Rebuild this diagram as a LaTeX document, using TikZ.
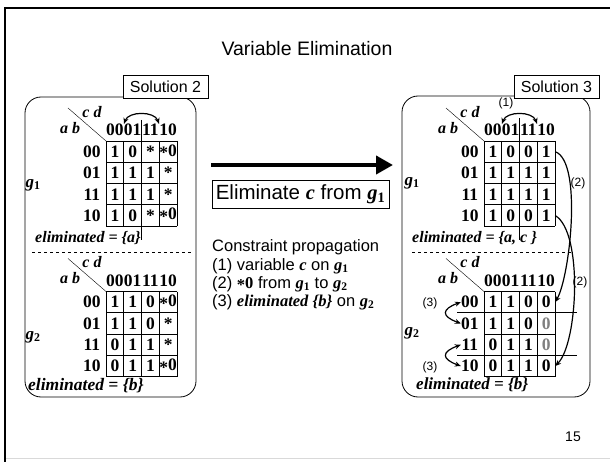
\documentclass[tikz,border=0pt]{standalone}
\usepackage{fontspec}
\setmainfont{Liberation Serif}
\setsansfont{Liberation Sans}
\usetikzlibrary{arrows.meta, positioning}

\tikzstyle{heading} = [font=\sffamily\fontsize{19.5}{19.5}\selectfont]
\tikzstyle{solbox} = [rectangle, minimum width=85pt, minimum height=23pt, inner sep=0pt, draw=black, fill=white, font=\sffamily\fontsize{16}{16}\selectfont]
\tikzstyle{process} = [rectangle, minimum width=177pt, minimum height=28pt, inner sep=0pt, draw=black, font=\sffamily\fontsize{20.5}{20.5}\selectfont]
\tikzstyle{panel} = [draw=black, line width=0.8pt, rounded corners=16pt]
\tikzstyle{cell} = [minimum width=17.75pt, minimum height=21.3pt, inner sep=0pt, font=\bfseries\fontsize{17.5}{17.5}\selectfont]
\tikzstyle{kvar} = [inner sep=0pt, font=\bfseries\itshape\fontsize{16}{16}\selectfont]
\tikzstyle{elimtext} = [inner sep=0pt, anchor=west, font=\bfseries\itshape\fontsize{16}{16}\selectfont]
\tikzstyle{note} = [inner sep=0pt, anchor=base west, font=\sffamily\fontsize{16.5}{16.5}\selectfont]
\tikzstyle{tag} = [inner sep=0pt, font=\sffamily\fontsize{12}{12}\selectfont]
\tikzstyle{bendarrow} = [line width=1.2pt, >={Stealth[length=6pt, width=5pt]}]
\tikzstyle{bigarrow} = [line width=4pt, -{Triangle[length=17pt, width=18pt]}]

\newcommand{\kstar}{\raisebox{-0.35ex}{*}}
\newcommand{\bi}[1]{{\rmfamily\bfseries\itshape #1}}
\newcommand{\gvar}[1]{\bi{g}\textsubscript{\rmfamily\bfseries #1}}

% one K-map: name, top left corner of the grid, rows of values
\newcommand{\kmap}[3]{%
  \begin{scope}[shift={#2}]
    \foreach \i in {0,...,4} {
      \draw[line width=0.8pt] (\i*17.75,0) -- (\i*17.75,85.2);
      \draw[line width=0.8pt] (0,\i*21.3) -- (71,\i*21.3);
    }
    \foreach \lab [count=\ci] in {00,01,11,10} {
      \node (#1-h\ci) [cell, minimum height=0pt] at (\ci*17.75-8.875,-11) {\lab};
      \node (#1-r\ci) [cell, anchor=east] at (-5,\ci*21.3-10.65) {\lab};
    }
    \foreach \row [count=\ri] in {#3}
      \foreach \val [count=\ci] in \row
        \node (#1-\ri-\ci) [cell] at (\ci*17.75-8.875,\ri*21.3-10.65) {\val};
    \node (#1-cd) [kvar] at (-14,-29) {c d};
    \node (#1-ab) [kvar] at (-36,-13) {a b};
    \draw (-38,-33) -- (0,0);
  \end{scope}}

\begin{document}
\begin{tikzpicture}[x=1pt, y=-1pt]
\useasboundingbox (0,0) rectangle (610,462);

% slide frame
\draw[gray!30, line width=1pt] (5,458) -- (610,458);
\draw[line width=2pt] (5,462) -- (5,8) -- (610,8);

\node (title) [heading] at (307,49) {Variable Elimination};

% solution panels
\draw[panel] (25,97) rectangle (196,397);
\draw[panel] (402,96) rectangle (590,397);
\node (sol2) [solbox] at (165.5,86.5) {Solution 2};
\node (sol3) [solbox] at (556.5,86.5) {Solution 3};

\kmap{La}{(106,141)}{{1,0,\kstar,\kstar0},{1,1,1,\kstar},{1,1,1,\kstar},{1,0,\kstar,\kstar0}}
\kmap{Lb}{(106,291.5)}{{1,1,0,\kstar0},{1,1,0,\kstar},{0,1,1,\kstar},{0,1,1,\kstar0}}
\kmap{Ra}{(484,141)}{{1,0,0,1},{1,1,1,1},{1,1,1,1},{1,0,0,1}}
\kmap{Rb}{(484,291.5)}{{1,1,0,0},{1,1,0,{\color{gray}0}},{0,1,1,{\color{gray}0}},{0,1,1,0}}

\node (La-g) [kvar, font=\fontsize{17}{17}\selectfont] at (33,185) {\gvar{1}};
\node (Lb-g) [kvar, font=\fontsize{17}{17}\selectfont] at (33,337) {\gvar{2}};
\node (Ra-g) [kvar, font=\fontsize{17}{17}\selectfont] at (412,183) {\gvar{1}};
\node (Rb-g) [kvar, font=\fontsize{17}{17}\selectfont] at (412,333) {\gvar{2}};

\node (La-elim) [elimtext] at (35,238) {eliminated = \{a\}};
\node (Lb-elim) [elimtext, font=\bfseries\itshape\fontsize{17.5}{17.5}\selectfont] at (28,386) {eliminated = \{b\}};
\node (Ra-elim) [elimtext] at (412,238) {eliminated = \{a, c \}};
\node (Rb-elim) [elimtext, font=\bfseries\itshape\fontsize{17}{17}\selectfont] at (416,385) {eliminated = \{b\}};

\draw[dashed, line width=0.8pt] (32,252) -- (192,252);
\draw[dashed, line width=0.8pt] (412,252) -- (572,252);

% symmetry axes and swaps
\draw[line width=0.8pt] (141.5,120) -- (141.5,240);
\draw[line width=0.8pt] (519.5,118) -- (519.5,240);
\draw[bendarrow, <->] (La-h1.north east) to[bend left=70] (La-h4.north west);
\draw[bendarrow, <->] (Ra-h1.north east) to[bend left=70] (Ra-h4.north west);
\node (t1) [tag] at (506,103) {(1)};

\draw[bendarrow, ->] (Ra-1-4.east) to[out=-20, in=60, looseness=0.5] (Rb-1-4.east);
\draw[bendarrow, ->] (Ra-4-4.east) to[out=-30, in=45, looseness=0.55] (Rb-4-4.east);
\node (t2a) [tag] at (578,183) {(2)};
\node (t2b) [tag] at (580,282) {(2)};

\draw[line width=0.8pt] (457,312.8) -- (577,312.8);
\draw[line width=0.8pt] (457,355.4) -- (577,355.4);
\draw[bendarrow, <->] (Rb-r1.west) to[out=200, in=160, looseness=2.5] (Rb-r2.west);
\draw[bendarrow, <->] (Rb-r3.west) to[out=200, in=160, looseness=2.5] (Rb-r4.west);
\node (t3a) [tag] at (430,303) {(3)};
\node (t3b) [tag] at (430,367) {(3)};

% elimination step
\coordinate (tail) at (211,165);
\coordinate (head) at (393,165);
\draw[bigarrow] (tail) -- (head);
\node (elim) [process] at (300.5,194) {Eliminate \bi{c} from \gvar{1}};

\node (prop) [note] at (212,252) {Constraint propagation};
\node (prop1) [note] at (212,270) {(1) variable \bi{c} on \gvar{1}};
\node (prop2) [note] at (212,288) {(2) {\rmfamily\bfseries\kstar0} from \gvar{1} to \gvar{2}};
\node (prop3) [note] at (212,306) {(3) \bi{eliminated \{b\}} on \gvar{2}};

\node (pagenum) [font=\sffamily\fontsize{14}{14}\selectfont] at (573,437) {15};

\end{tikzpicture}
\end{document}
